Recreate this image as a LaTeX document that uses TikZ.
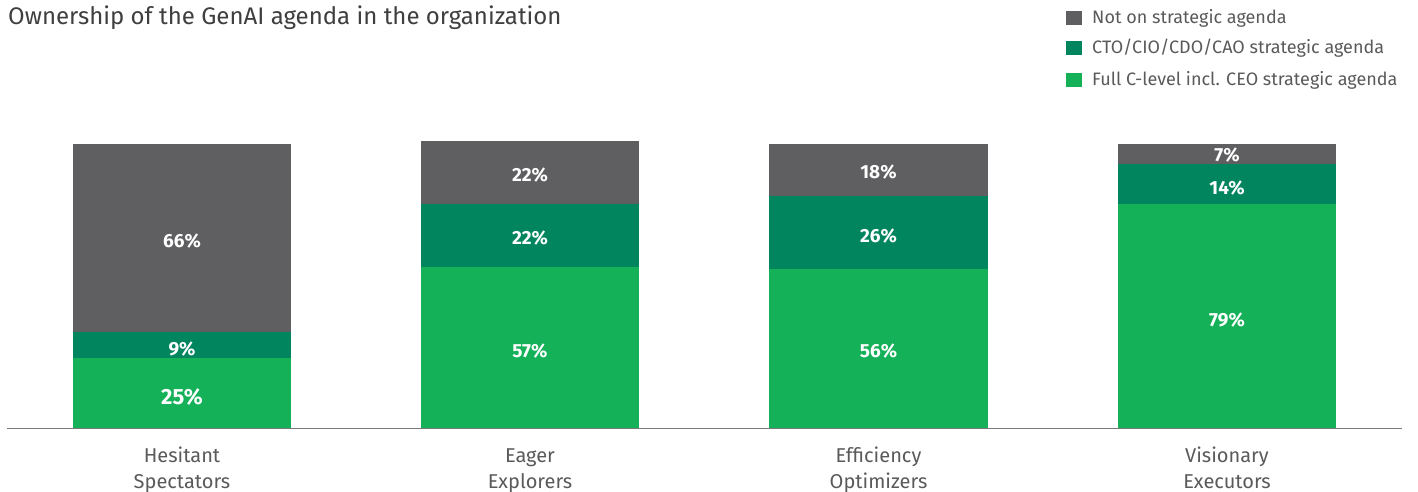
\documentclass[tikz,border=0pt]{standalone}
\usepackage{fontspec}
\setmainfont{Fira Sans}
\definecolor{notag}{HTML}{5F5E60}
\definecolor{ctoag}{HTML}{00855F}
\definecolor{fullag}{HTML}{14B159}
\definecolor{txtgrey}{HTML}{3F3F3F}
\definecolor{leggrey}{HTML}{5A5A5A}
\definecolor{axisgrey}{HTML}{7A7A7A}
\begin{document}
\begin{tikzpicture}[x=1pt,y=-1pt,
  pct/.style={text=white,font=\fontsize{19}{22}\selectfont\bfseries,inner sep=0pt,anchor=center},
  bigpct/.style={pct,font=\fontsize{22}{26}\selectfont\bfseries},
  cat/.style={text=leggrey,font=\fontsize{20}{26}\selectfont,anchor=base,inner sep=0pt},
  legtxt/.style={text=leggrey,font=\fontsize{18}{21}\selectfont,anchor=west,inner sep=0pt},
  legbox/.style={inner sep=0pt,minimum width=16pt,minimum height=14pt,anchor=center}]
\useasboundingbox[fill=white] (0,0) rectangle (1418,492);
% title
\node[anchor=base west,inner sep=0pt,text=txtgrey,font=\fontsize{24}{28}\selectfont] (title) at (8,25) {Ownership of the GenAI agenda in the organization};
% legend
\node[legbox,fill=notag] (lb1) at (1074,18) {};
\node[legtxt] (lt1) at (1092,18) {Not on strategic agenda};
\node[legbox,fill=ctoag] (lb2) at (1074,48.5) {};
\node[legtxt] (lt2) at (1092,48.5) {CTO/CIO/CDO/CAO strategic agenda};
\node[legbox,fill=fullag] (lb3) at (1074,80.5) {};
\node[legtxt] (lt3) at (1092,80.5) {Full C-level incl. CEO strategic agenda};
% bar 1
\fill[notag] (73,144) rectangle (291,331.7);
\fill[ctoag] (73,331.7) rectangle (291,358);
\fill[fullag] (73,358) rectangle (291,428);
\node[pct] (b1a) at (182,241) {66\%};
\node[pct] (b1b) at (182,349) {9\%};
\node[bigpct] (b1c) at (182,397) {25\%};
% bar 2
\fill[notag] (421,141) rectangle (639,203.7);
\fill[ctoag] (421,203.7) rectangle (639,266.7);
\fill[fullag] (421,266.7) rectangle (639,428);
\node[pct] (b2a) at (530,175.5) {22\%};
\node[pct] (b2b) at (530,238.5) {22\%};
\node[pct] (b2c) at (530,351) {57\%};
% bar 3
\fill[notag] (769,144) rectangle (988,195.7);
\fill[ctoag] (769,195.7) rectangle (988,268.7);
\fill[fullag] (769,268.7) rectangle (988,428);
\node[pct] (b3a) at (878.5,172.5) {18\%};
\node[pct] (b3b) at (878.5,236) {26\%};
\node[pct] (b3c) at (878.5,351.5) {56\%};
% bar 4
\fill[notag] (1118,144) rectangle (1336,163.7);
\fill[ctoag] (1118,163.7) rectangle (1336,203.7);
\fill[fullag] (1118,203.7) rectangle (1336,428);
\node[pct] (b4a) at (1227,155) {7\%};
\node[pct] (b4b) at (1227,188) {14\%};
\node[pct] (b4c) at (1227,320) {79\%};
% axis
\coordinate (axl) at (7,428.3);
\coordinate (axr) at (1402,428.3);
\draw[axisgrey,line width=1.5pt] (axl) -- (axr);
% categories
\node[cat] (c1a) at (182,462) {Hesitant};
\node[cat] (c1b) at (182,488) {Spectators};
\node[cat] (c2a) at (530,462) {Eager};
\node[cat] (c2b) at (530,488) {Explorers};
\node[cat] (c3a) at (878.5,462) {Efficiency};
\node[cat] (c3b) at (878.5,488) {Optimizers};
\node[cat] (c4a) at (1227,462) {Visionary};
\node[cat] (c4b) at (1227,488) {Executors};
\end{tikzpicture}
\end{document}
